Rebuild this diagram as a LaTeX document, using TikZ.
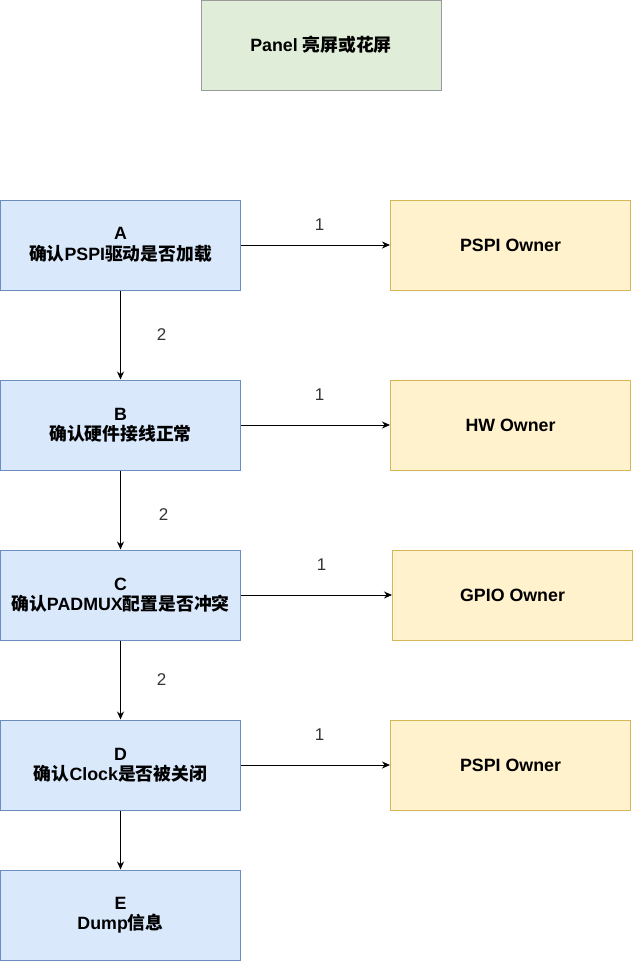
\documentclass[tikz,border=0pt]{standalone}
\usepackage{fontspec}
\setmainfont{Liberation Sans}
\newfontfamily\cjk{Noto Sans CJK SC}
\usetikzlibrary{arrows.meta,positioning}
\newcommand{\zh}[1]{{\cjk #1}}
\definecolor{stepfill}{HTML}{DAE8FC}
\definecolor{stepline}{HTML}{6C8EBF}
\definecolor{ownerfill}{HTML}{FFF2CC}
\definecolor{ownerline}{HTML}{D6B656}
\definecolor{topfill}{HTML}{E0EDD8}
\definecolor{topline}{HTML}{9A9A9A}
\definecolor{numgray}{HTML}{333333}

\begin{document}
\begin{tikzpicture}[x=1pt, y=-1pt, >={Stealth[length=8pt,width=7pt]},
  box/.style={draw, line width=1pt, minimum width=240pt, minimum height=90pt, inner sep=0pt, align=center, font=\bfseries\fontsize{17.8}{20.5}\selectfont},
  stepbox/.style={box, fill=stepfill, draw=stepline},
  ownerbox/.style={box, fill=ownerfill, draw=ownerline},
  topbox/.style={box, fill=topfill, draw=topline},
  num/.style={font=\fontsize{17}{19}\selectfont, text=numgray}]
  \useasboundingbox (0,0) rectangle (633,961);
  \node[topbox] (panel) at (321,45) {Panel \zh{亮屏或花屏}};

  \node[stepbox] (A) at (120.5,245) {A\\\zh{确认}PSPI\zh{驱动是否加载}};
  \node[stepbox] (B) at (120.5,425) {B\\\zh{确认硬件接线正常}};
  \node[stepbox] (C) at (120.5,595) {C\\\zh{确认}PADMUX\zh{配置是否冲突}};
  \node[stepbox] (D) at (120.5,765) {D\\\zh{确认}Clock\zh{是否被关闭}};
  \node[stepbox] (E) at (120.5,915) {E\\Dump\zh{信息}};

  \node[ownerbox] (pspiA) at (510.5,245) {PSPI Owner};
  \node[ownerbox] (hw) at (510.5,425) {HW Owner};
  \node[ownerbox] (gpio) at (512.5,595) {GPIO Owner};
  \node[ownerbox] (pspiD) at (510.5,765) {PSPI Owner};

  % yes branches
  \draw[->, line width=1pt] (A) -- (pspiA) node[num, midway, yshift=20pt, xshift=4pt] {1};
  \draw[->, line width=1pt] (B) -- (hw) node[num, midway, yshift=30pt, xshift=4pt] {1};
  \draw[->, line width=1pt] (C) -- (gpio) node[num, midway, yshift=30pt, xshift=5pt] {1};
  \draw[->, line width=1pt] (D) -- (pspiD) node[num, midway, yshift=30pt, xshift=4pt] {1};

  % no branches
  \draw[->, line width=1pt] (A) -- (B) node[num, midway, xshift=41pt] {2};
  \draw[->, line width=1pt] (B) -- (C) node[num, midway, xshift=43pt, yshift=-5pt] {2};
  \draw[->, line width=1pt] (C) -- (D) node[num, midway, xshift=41pt] {2};
  \draw[->, line width=1pt] (D) -- (E);
\end{tikzpicture}
\end{document}
